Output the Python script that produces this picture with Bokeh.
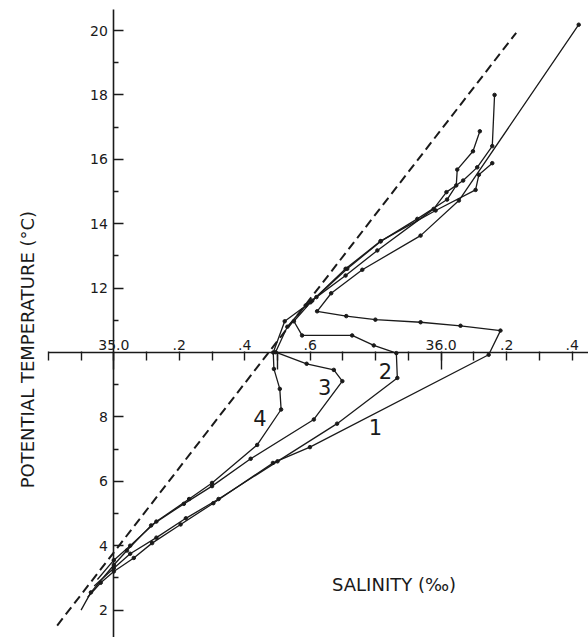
from bokeh.plotting import figure
from bokeh.models import LinearAxis, FixedTicker, Label, Range1d
from bokeh.embed import file_html
from bokeh.resources import INLINE

# ---- data (salinity in per mille, potential temperature in deg C) ----
s1 = [34.92, 34.96, 35.00, 35.061, 35.117, 35.204, 35.304, 35.486, 35.599, 36.145, 36.181,
      36.059, 35.937, 35.799, 35.710, 35.621, 35.664, 35.759, 35.937, 36.054, 36.42]
t1 = [2.4, 2.85, 3.2, 3.62, 4.08, 4.66, 5.32, 6.57, 7.06, 9.93, 10.68,
      10.83, 10.94, 11.02, 11.13, 11.28, 11.84, 12.57, 13.63, 14.72, 20.18]

s2 = [34.94, 35.00, 35.05, 35.13, 35.22, 35.32, 35.50, 35.682, 35.866, 35.863, 35.794, 35.728,
      35.575, 35.55, 35.606, 35.713, 35.815, 35.927, 36.018, 36.046, 36.049, 36.097, 36.118]
t2 = [2.75, 3.3, 3.75, 4.25, 4.85, 5.45, 6.62, 7.79, 9.21, 9.98, 10.22, 10.53,
      10.53, 10.97, 11.61, 12.6, 13.45, 14.15, 14.75, 15.19, 15.68, 16.25, 16.87]

s3 = [34.90, 34.93, 35.00, 35.04, 35.114, 35.214, 35.30, 35.418, 35.611, 35.698, 35.672, 35.589,
      35.494, 35.53, 35.586, 35.619, 35.708, 35.805, 35.977, 36.016, 36.067, 36.110, 36.156, 36.163]
t3 = [2.0, 2.55, 3.4, 3.85, 4.63, 5.30, 5.85, 6.70, 7.92, 9.11, 9.46, 9.65,
      10.01, 10.8, 11.46, 11.72, 12.39, 13.17, 14.46, 14.98, 15.34, 15.75, 16.41, 18.0]

s4 = [34.95, 35.00, 35.05, 35.13, 35.23, 35.30, 35.438, 35.511, 35.507, 35.489, 35.487, 35.522,
      35.601, 35.708, 35.815, 35.983, 36.105, 36.115, 36.156]
t4 = [2.95, 3.55, 4.0, 4.75, 5.45, 5.95, 7.13, 8.23, 8.87, 9.49, 10.0, 10.97,
      11.56, 12.6, 13.46, 14.41, 15.05, 15.52, 15.88]

s_dash = [34.827, 36.229]
t_dash = [1.52, 19.93]

curve_names = ["1", "2", "3", "4"]
name_s = [35.799, 35.830, 35.644, 35.446]
name_t = [7.70, 9.42, 8.93, 7.97]

# labelled salinity ticks and their texts
x_label_ticks = [35.0, 35.2, 35.4, 35.6, 36.0, 36.2, 36.4]
x_tick_labels = ["35.0", ".2", ".4", ".6", "36.0", ".2", ".4"]
# unlabelled tenths
x_plain_ticks = [34.8, 34.9, 35.1, 35.3, 35.5, 35.7, 35.8, 35.9, 36.1, 36.3]
x_long_ticks = [35.0, 35.5, 36.0]

y_label_ticks = [2, 4, 6, 8, 12, 14, 16, 18, 20]
y_plain_ticks = [3, 5, 7, 9, 11, 13, 15, 17, 19]

FONT = "DejaVu Sans"
INK = "#1a1a1a"

p = figure(width=588, height=637,
           x_range=Range1d(34.6539, 36.4499), y_range=Range1d(1.149, 20.932),
           x_axis_type=None, y_axis_type=None,
           toolbar_location=None, output_backend="svg",
           min_border=0, outline_line_color=None)

# salinity axis crossing at 10 deg C
xaxis = LinearAxis(fixed_location=10.0, bounds=(34.8, 36.6),
                   ticker=FixedTicker(ticks=x_label_ticks, minor_ticks=x_plain_ticks),
                   major_label_overrides={v: l for v, l in zip(x_label_ticks, x_tick_labels)},
                   major_tick_in=8, major_tick_out=1, minor_tick_in=8, minor_tick_out=1,
                   major_label_standoff=2,
                   axis_line_width=1.6, major_tick_line_width=1.4, minor_tick_line_width=1.4,
                   axis_line_color=INK, major_tick_line_color=INK, minor_tick_line_color=INK,
                   major_label_text_font=FONT, major_label_text_font_size="14px",
                   major_label_text_color=INK)
p.add_layout(xaxis, "above")

xaxis_long = LinearAxis(fixed_location=10.0,
                        ticker=FixedTicker(ticks=[], minor_ticks=x_long_ticks),
                        major_tick_in=0, major_tick_out=0, minor_tick_in=17, minor_tick_out=0,
                        axis_line_color=None, minor_tick_line_width=1.4,
                        minor_tick_line_color=INK)
p.add_layout(xaxis_long, "above")

# temperature axis at 35.0
yaxis = LinearAxis(fixed_location=35.0, bounds=(0.5, 20.65),
                   ticker=FixedTicker(ticks=y_label_ticks, minor_ticks=y_plain_ticks),
                   major_tick_in=10, major_tick_out=0, minor_tick_in=5, minor_tick_out=0,
                   major_label_standoff=6,
                   axis_line_width=1.6, major_tick_line_width=1.4, minor_tick_line_width=1.4,
                   axis_line_color=INK, major_tick_line_color=INK, minor_tick_line_color=INK,
                   major_label_text_font=FONT, major_label_text_font_size="14px",
                   major_label_text_color=INK)
p.add_layout(yaxis, "left")

# dashed reference line
p.line(s_dash, t_dash, line_color=INK, line_width=2.0, line_dash="9 5")

for s, t in [(s1, t1), (s2, t2), (s3, t3), (s4, t4)]:
    p.line(s, t, line_color=INK, line_width=1.3)
    p.scatter(s[1:], t[1:], size=3.5, color=INK)

for name, s, t in zip(curve_names, name_s, name_t):
    p.add_layout(Label(x=s, y=t, text=name, text_font=FONT, text_font_size="21px",
                       text_align="center", text_baseline="middle", text_color=INK))

p.add_layout(Label(x=35.856, y=2.81, text="SALINITY (‰)", text_font=FONT,
                   text_font_size="18px", text_align="center", text_baseline="middle",
                   text_color=INK))
p.add_layout(Label(x=34.7364, y=10.09, text="POTENTIAL TEMPERATURE (°C)", angle=1.5708,
                   text_font=FONT, text_font_size="18px", text_align="center",
                   text_baseline="middle", text_color=INK))

open("out.html", "w").write(file_html(p, INLINE))
